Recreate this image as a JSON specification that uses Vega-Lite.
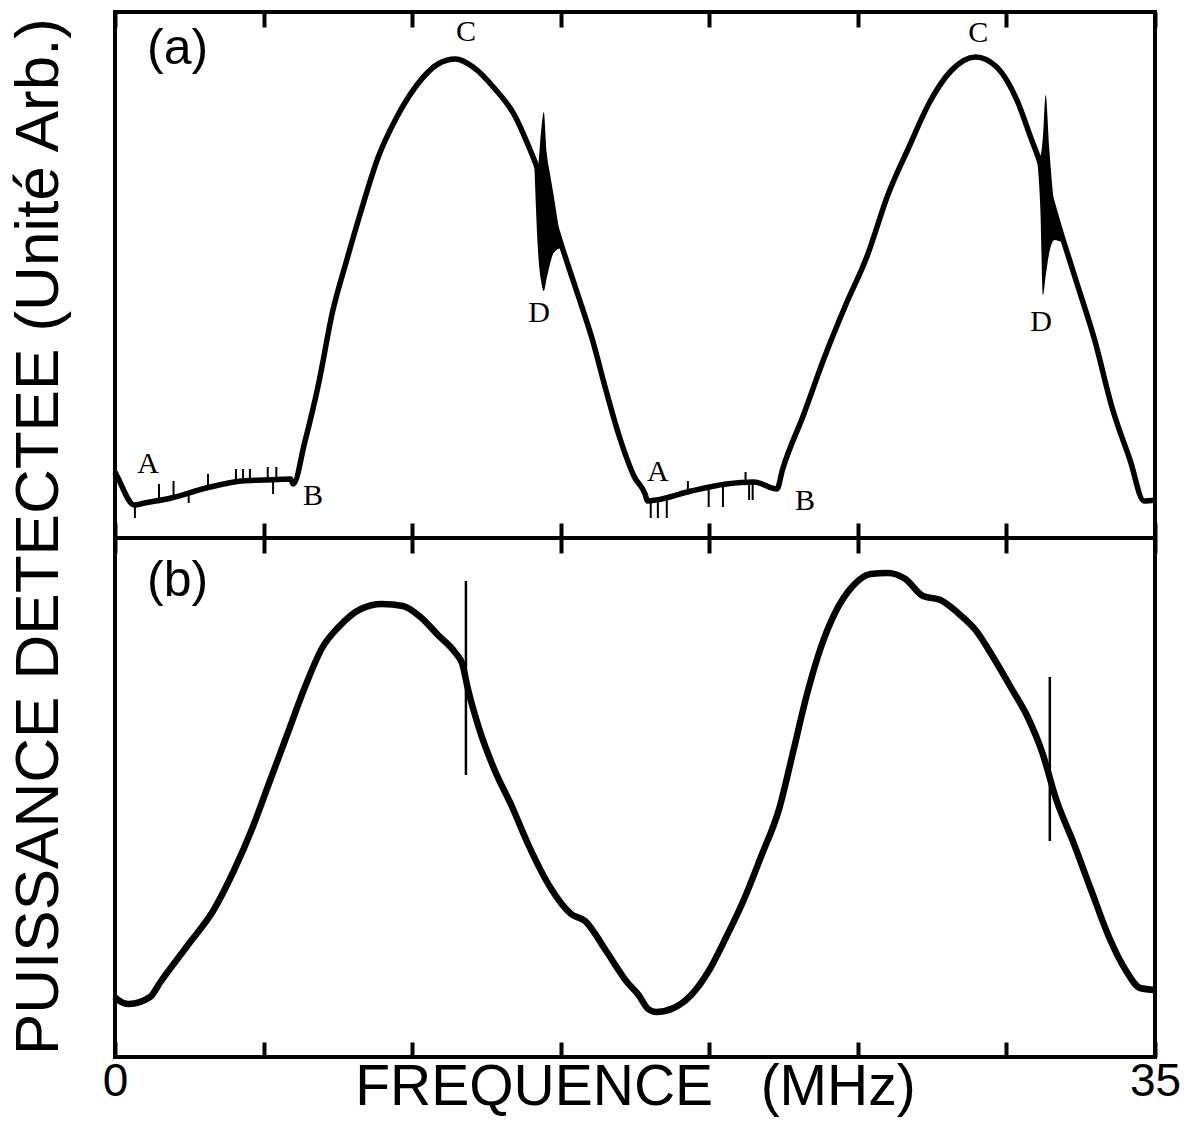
{
  "$schema": "https://vega.github.io/schema/vega-lite/v6.json",
  "background": "white",
  "padding": {"left": 8, "top": 8, "right": 10, "bottom": 5},
  "bounds": "flush",
  "spacing": 0,
  "title": {"text": "PUISSANCE DETECTEE (Unité Arb.)", "orient": "left", "anchor": "middle", "fontSize": 62, "font": "Liberation Sans", "fontWeight": "normal", "color": "black", "offset": 29, "dx": 26},
  "datasets": {
    "curveA": [
      {"f": 0.0, "p": 66}, {"f": 0.1, "p": 60}, {"f": 0.65, "p": 33}, {"f": 1.0, "p": 35}, {"f": 1.89, "p": 40},
      {"f": 3.07, "p": 50}, {"f": 4.25, "p": 57}, {"f": 5.0, "p": 58}, {"f": 5.91, "p": 59}, {"f": 6.0, "p": 54},
      {"f": 6.38, "p": 95}, {"f": 6.85, "p": 154}, {"f": 7.32, "p": 226}, {"f": 7.8, "p": 278}, {"f": 8.27, "p": 326},
      {"f": 8.86, "p": 381}, {"f": 9.45, "p": 419}, {"f": 10.16, "p": 453}, {"f": 10.87, "p": 474}, {"f": 11.46, "p": 479},
      {"f": 12.05, "p": 471}, {"f": 12.76, "p": 450}, {"f": 13.46, "p": 422}, {"f": 13.93, "p": 391}, {"f": 14.11, "p": 378},
      {"f": 15.11, "p": 285}, {"f": 15.58, "p": 243}, {"f": 16.06, "p": 199}, {"f": 16.53, "p": 147},
      {"f": 17.0, "p": 99}, {"f": 17.48, "p": 61}, {"f": 17.84, "p": 44}, {"f": 17.92, "p": 37}, {"f": 18.21, "p": 38},
      {"f": 19.39, "p": 47}, {"f": 20.57, "p": 54}, {"f": 21.51, "p": 56}, {"f": 22.28, "p": 49}, {"f": 22.46, "p": 68},
      {"f": 23.17, "p": 123}, {"f": 23.88, "p": 181}, {"f": 24.59, "p": 233}, {"f": 25.3, "p": 281}, {"f": 26.01, "p": 343},
      {"f": 26.72, "p": 391}, {"f": 27.42, "p": 436}, {"f": 28.13, "p": 467}, {"f": 28.96, "p": 481}, {"f": 29.67, "p": 471},
      {"f": 30.38, "p": 436}, {"f": 30.85, "p": 398}, {"f": 31.03, "p": 384},
      {"f": 31.91, "p": 298}, {"f": 32.38, "p": 254}, {"f": 32.97, "p": 198},
      {"f": 33.56, "p": 130}, {"f": 34.16, "p": 78}, {"f": 34.63, "p": 37}, {"f": 35.0, "p": 38}
    ],
    "blockA": [
      {"g": 1, "f": 14.11, "lo": 376, "hi": 381}, {"g": 1, "f": 14.23, "lo": 290, "hi": 372}, {"g": 1, "f": 14.35, "lo": 255, "hi": 410},
      {"g": 1, "f": 14.43, "lo": 247, "hi": 426}, {"g": 1, "f": 14.53, "lo": 260, "hi": 385}, {"g": 1, "f": 14.64, "lo": 274, "hi": 364},
      {"g": 1, "f": 14.76, "lo": 285, "hi": 343}, {"g": 1, "f": 15.0, "lo": 290, "hi": 296},
      {"g": 2, "f": 31.03, "lo": 380, "hi": 388}, {"g": 2, "f": 31.14, "lo": 330, "hi": 382}, {"g": 2, "f": 31.23, "lo": 243, "hi": 402},
      {"g": 2, "f": 31.32, "lo": 262, "hi": 443}, {"g": 2, "f": 31.44, "lo": 285, "hi": 390}, {"g": 2, "f": 31.62, "lo": 298, "hi": 330},
      {"g": 2, "f": 31.85, "lo": 296, "hi": 300}
    ],
    "spikesA": [
      {"f": 0.67, "lo": 20, "hi": 33}, {"f": 1.48, "lo": 38, "hi": 54}, {"f": 1.97, "lo": 41, "hi": 57}, {"f": 2.48, "lo": 35, "hi": 45},
      {"f": 3.13, "lo": 50, "hi": 64}, {"f": 4.07, "lo": 56, "hi": 69}, {"f": 4.31, "lo": 56, "hi": 69}, {"f": 4.54, "lo": 57, "hi": 69},
      {"f": 5.14, "lo": 58, "hi": 71}, {"f": 5.43, "lo": 59, "hi": 71}, {"f": 5.32, "lo": 44, "hi": 58}, {"f": 18.03, "lo": 20, "hi": 37},
      {"f": 18.27, "lo": 20, "hi": 38}, {"f": 18.57, "lo": 20, "hi": 40}, {"f": 19.28, "lo": 46, "hi": 57}, {"f": 19.98, "lo": 31, "hi": 50},
      {"f": 20.46, "lo": 31, "hi": 52}, {"f": 21.22, "lo": 55, "hi": 66}, {"f": 21.34, "lo": 38, "hi": 55}, {"f": 21.46, "lo": 38, "hi": 55}
    ],
    "labelsA": [
      {"f": 1.11, "p": 74, "t": "A"}, {"f": 6.66, "p": 42, "t": "B"}, {"f": 11.81, "p": 506, "t": "C"}, {"f": 14.27, "p": 225, "t": "D"},
      {"f": 18.27, "p": 66, "t": "A"}, {"f": 23.22, "p": 37, "t": "B"}, {"f": 29.05, "p": 505, "t": "C"}, {"f": 31.17, "p": 216, "t": "D"}
    ],
    "curveB": [
      {"f": 0.0, "p": 60}, {"f": 0.06, "p": 58}, {"f": 0.47, "p": 53}, {"f": 1.18, "p": 60}, {"f": 1.53, "p": 75},
      {"f": 2.48, "p": 113}, {"f": 3.3, "p": 146}, {"f": 4.01, "p": 187}, {"f": 4.61, "p": 228}, {"f": 5.2, "p": 275},
      {"f": 5.79, "p": 322}, {"f": 6.38, "p": 369}, {"f": 6.97, "p": 409}, {"f": 7.56, "p": 431}, {"f": 8.27, "p": 448},
      {"f": 8.98, "p": 453}, {"f": 9.69, "p": 451}, {"f": 10.28, "p": 440}, {"f": 10.87, "p": 422}, {"f": 11.46, "p": 404},
      {"f": 11.69, "p": 393}, {"f": 11.87, "p": 369}, {"f": 12.28, "p": 326}, {"f": 12.76, "p": 288}, {"f": 13.35, "p": 251},
      {"f": 13.93, "p": 211}, {"f": 14.64, "p": 170}, {"f": 15.35, "p": 143}, {"f": 15.82, "p": 136}, {"f": 16.53, "p": 106},
      {"f": 17.23, "p": 75}, {"f": 17.62, "p": 62}, {"f": 17.94, "p": 48}, {"f": 18.21, "p": 45}, {"f": 18.8, "p": 49},
      {"f": 19.39, "p": 62}, {"f": 19.98, "p": 86}, {"f": 20.57, "p": 120}, {"f": 21.16, "p": 157}, {"f": 21.75, "p": 201},
      {"f": 22.35, "p": 248}, {"f": 22.82, "p": 305}, {"f": 23.29, "p": 363}, {"f": 23.76, "p": 410}, {"f": 24.23, "p": 444},
      {"f": 24.83, "p": 471}, {"f": 25.42, "p": 483}, {"f": 26.01, "p": 484}, {"f": 26.6, "p": 478}, {"f": 27.19, "p": 461},
      {"f": 27.78, "p": 457}, {"f": 28.37, "p": 444}, {"f": 28.96, "p": 427}, {"f": 29.55, "p": 400}, {"f": 30.14, "p": 370},
      {"f": 30.73, "p": 339}, {"f": 31.2, "p": 305}, {"f": 31.67, "p": 258}, {"f": 32.26, "p": 214}, {"f": 32.85, "p": 167},
      {"f": 33.45, "p": 120}, {"f": 34.03, "p": 86}, {"f": 34.5, "p": 69}, {"f": 35.0, "p": 67}
    ],
    "spikesB": [
      {"f": 11.81, "lo": 282, "hi": 476}, {"f": 31.46, "lo": 216, "hi": 380}
    ],
    "panelA": [{"f": 1.08, "p": 489, "t": "(a)"}],
    "panelB": [{"f": 1.08, "p": 476, "t": "(b)"}]
  },
  "vconcat": [
    {
      "width": 1040,
      "height": 526,
      "resolve": {"axis": {"x": "independent"}},
      "layer": [
        {
          "data": {"name": "curveA"},
          "mark": {"type": "line", "color": "black", "strokeWidth": 5.5, "strokeJoin": "round", "interpolate": "monotone"},
          "encoding": {
            "x": {"field": "f", "type": "quantitative", "scale": {"domain": [0, 35], "nice": false, "zero": false},
                  "axis": {"orient": "top", "values": [0, 5, 10, 15, 20, 25, 30, 35], "labels": false, "title": null, "domain": false, "grid": false, "ticks": true, "tickSize": -15, "tickWidth": 4, "tickColor": "black"}},
            "y": {"field": "p", "type": "quantitative", "scale": {"domain": [0, 526], "nice": false, "zero": false}, "axis": null}
          }
        },
        {
          "data": {"name": "blockA"},
          "mark": {"type": "area", "color": "black", "opacity": 1, "interpolate": "monotone"},
          "encoding": {
            "x": {"field": "f", "type": "quantitative", "axis": null},
            "y": {"field": "lo", "type": "quantitative", "axis": null},
            "y2": {"field": "hi"},
            "detail": {"field": "g"}
          }
        },
        {
          "data": {"name": "spikesA"},
          "mark": {"type": "rule", "color": "black", "strokeWidth": 2},
          "encoding": {
            "x": {"field": "f", "type": "quantitative",
                  "axis": {"orient": "bottom", "values": [0, 5, 10, 15, 20, 25, 30, 35], "labels": false, "title": null, "domain": false, "grid": false, "ticks": true, "tickSize": -15, "tickWidth": 4, "tickColor": "black"}},
            "y": {"field": "lo", "type": "quantitative", "axis": null},
            "y2": {"field": "hi"}
          }
        },
        {
          "data": {"name": "labelsA"},
          "mark": {"type": "text", "font": "Liberation Serif", "fontSize": 30, "color": "black", "align": "center", "baseline": "middle"},
          "encoding": {
            "x": {"field": "f", "type": "quantitative", "axis": null},
            "y": {"field": "p", "type": "quantitative", "axis": null},
            "text": {"field": "t"}
          }
        },
        {
          "data": {"name": "panelA"},
          "mark": {"type": "text", "font": "Liberation Sans", "fontSize": 50, "color": "black", "align": "left", "baseline": "middle"},
          "encoding": {
            "x": {"field": "f", "type": "quantitative", "axis": null},
            "y": {"field": "p", "type": "quantitative", "axis": null},
            "text": {"field": "t"}
          }
        }
      ]
    },
    {
      "width": 1040,
      "height": 519,
      "resolve": {"axis": {"x": "independent"}},
      "layer": [
        {
          "data": {"name": "curveB"},
          "mark": {"type": "line", "color": "black", "strokeWidth": 6.5, "strokeJoin": "round", "interpolate": "monotone"},
          "encoding": {
            "x": {"field": "f", "type": "quantitative", "scale": {"domain": [0, 35], "nice": false, "zero": false},
                  "axis": {"orient": "top", "values": [0, 5, 10, 15, 20, 25, 30, 35], "labels": false, "title": null, "domain": false, "grid": false, "ticks": true, "tickSize": -15, "tickWidth": 4, "tickColor": "black"}},
            "y": {"field": "p", "type": "quantitative", "scale": {"domain": [0, 519], "nice": false, "zero": false}, "axis": null}
          }
        },
        {
          "data": {"name": "spikesB"},
          "mark": {"type": "rule", "color": "black", "strokeWidth": 2.5},
          "encoding": {
            "x": {"field": "f", "type": "quantitative",
                  "axis": {"orient": "bottom", "values": [0, 5, 10, 15, 20, 25, 30, 35], "labelExpr": "datum.value == 0 || datum.value == 35 ? datum.label : ''", "labelFlush": false, "labelFont": "Liberation Sans", "labelFontSize": 46, "labelColor": "black", "labelPadding": 17, "title": "FREQUENCE\u00a0\u00a0\u00a0(MHz)", "titleFont": "Liberation Sans", "titleFontSize": 57, "titleFontWeight": "normal", "titleColor": "black", "titlePadding": -45, "domain": false, "grid": false, "ticks": true, "tickSize": -15, "tickWidth": 4, "tickColor": "black"}},
            "y": {"field": "lo", "type": "quantitative", "axis": null},
            "y2": {"field": "hi"}
          }
        },
        {
          "data": {"name": "panelB"},
          "mark": {"type": "text", "font": "Liberation Sans", "fontSize": 50, "color": "black", "align": "left", "baseline": "middle"},
          "encoding": {
            "x": {"field": "f", "type": "quantitative", "axis": null},
            "y": {"field": "p", "type": "quantitative", "axis": null},
            "text": {"field": "t"}
          }
        }
      ]
    }
  ],
  "config": {
    "view": {"stroke": "black", "strokeWidth": 4},
    "font": "Liberation Sans"
  }
}
